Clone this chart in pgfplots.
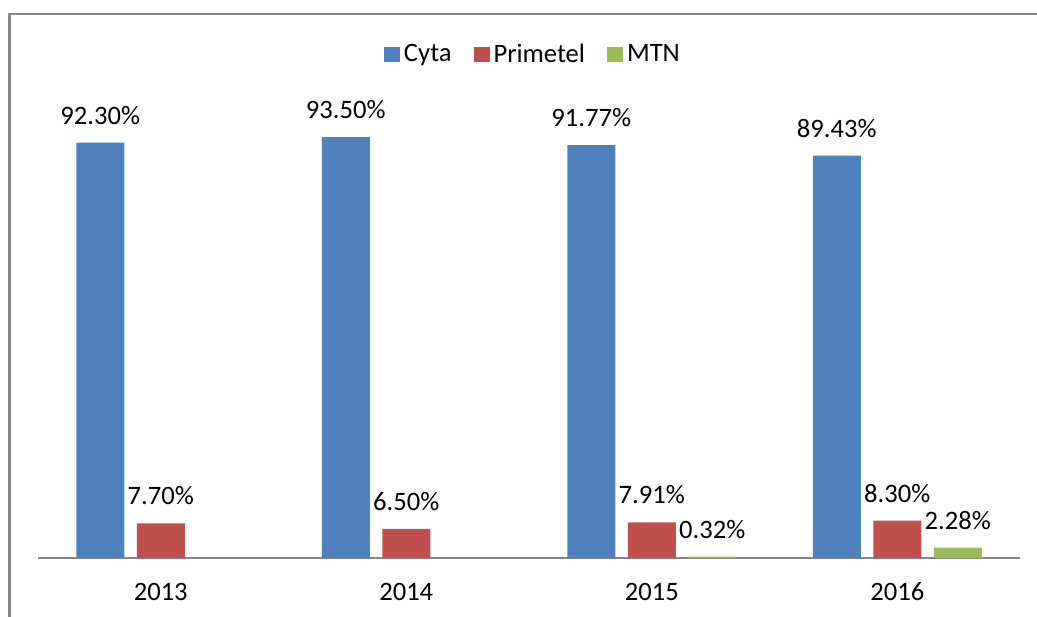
\documentclass[border=0pt]{standalone}
\usepackage{pgfplots}
\pgfplotsset{compat=1.18}
\usepackage{fontspec}
\setmainfont{Carlito}
\definecolor{cyta}{HTML}{4F81BD}
\definecolor{prim}{HTML}{C0504D}
\definecolor{mtn}{HTML}{9BBB59}
\definecolor{frame}{HTML}{868686}
\begin{document}
\fontsize{13.3pt}{16pt}\selectfont
\begin{tikzpicture}
\useasboundingbox (0,0) rectangle (518.5pt,308pt);
\draw[frame, line width=1.2pt] (4.75pt,-2pt) -- (4.75pt,301pt) -- (522pt,301pt);
\begin{axis}[
  at={(19pt,29pt)}, anchor=south west,
  scale only axis, width=491pt, height=225pt,
  xmin=-0.5, xmax=3.5, ymin=0, ymax=100,
  ybar=6.25pt, bar width=24pt,
  axis y line=none,
  axis x line*=bottom,
  x axis line style={frame, line width=0.6pt, -},
  xtick={0,1,2,3}, xticklabels={2013,2014,2015,2016},
  major tick length=0pt,
  /pgf/number format/assume math mode=true,
  xticklabel style={anchor=base, yshift=-21pt, font=\fontsize{13.3pt}{16pt}\selectfont},
  clip=false,
  nodes near coords={\pgfmathprintnumber[fixed,fixed zerofill,precision=2,assume math mode=true]{\pgfplotspointmeta}\%},
  every node near coord/.append style={anchor=base, yshift=9.25pt, inner sep=0pt, font=\fontsize{13.3pt}{16pt}\selectfont, text=black},
  legend style={draw=none, at={(0.505,1.118)}, anchor=center, legend columns=3,
    font=\fontsize{13.3pt}{16pt}\selectfont,
    /tikz/every even column/.append style={column sep=9pt},
    nodes={inner sep=2pt}},
  legend image code/.code={\fill[#1] (0pt,-3.75pt) rectangle (8pt,3.75pt);},
]
\addplot[fill=cyta, draw=none] coordinates {(0,92.30) (1,93.50) (2,91.77) (3,89.43)};
\addplot[fill=prim, draw=none] coordinates {(0,7.70) (1,6.50) (2,7.91) (3,8.30)};
\addplot[fill=mtn, draw=none] coordinates {(2,0.32) (3,2.28)};
\legend{Cyta,Primetel,MTN}
\end{axis}
\end{tikzpicture}
\end{document}
